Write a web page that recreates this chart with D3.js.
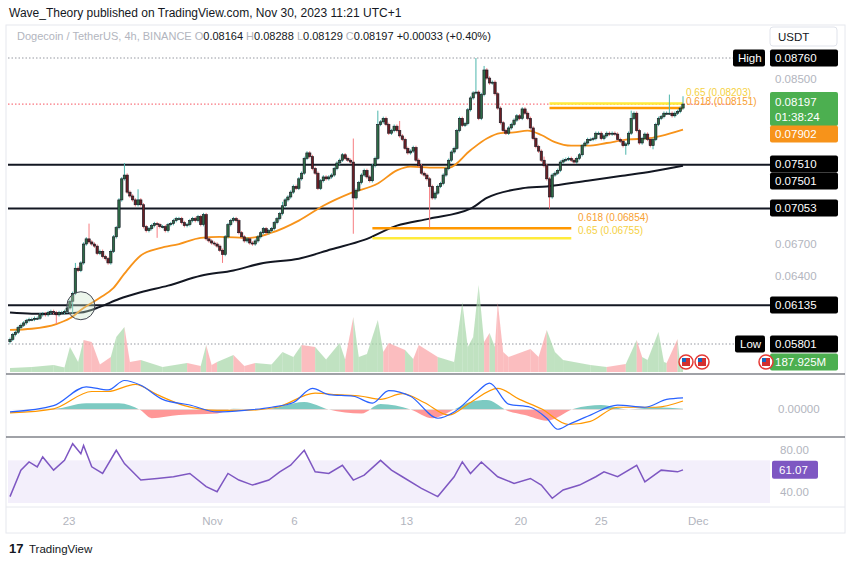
<!DOCTYPE html>
<html>
<head>
<meta charset="utf-8">
<script src="https://cdn.jsdelivr.net/npm/d3@7"></script>
<style>
  body { margin: 0; background: #fff; font-family: "Liberation Sans", Arial, sans-serif; }
  svg text { font-family: "Liberation Sans", Arial, sans-serif; }
</style>
</head>
<body>
<svg id="chart" width="850" height="564"></svg>
<script>
// DOGE/USDT 4h closes, Oct 19 -> Nov 30 (one per candle)
let closes = [
  .0584,.0588,.0590,.0594,.0596,.0598,.0600,.0601,.0601,.0602,
  .0602,.0605,.0606,.0605,.0607,.0608,.0607,.0605,.0607,.0607,
  .0608,.0611,.0617,.0624,.0647,.0645,.0652,.0670,.0675,.0672,
  .0670,.0668,.0661,.0663,.0658,.0656,.0652,.0663,.0677,.0686,
  .0714,.0736,.0740,.0722,.0718,.0714,.0709,.0714,.0709,.0687,
  .0683,.0685,.0688,.0690,.0689,.0687,.0687,.0683,.0689,.0690,
  .0693,.0695,.0695,.0691,.0688,.0689,.0693,.0695,.0693,.0697,
  .0689,.0699,.0675,.0673,.0671,.0670,.0668,.0664,.0660,.0677,
  .0689,.0693,.0695,.0693,.0681,.0677,.0673,.0675,.0671,.0670,
  .0673,.0677,.0681,.0685,.0681,.0683,.0685,.0691,.0695,.0700,
  .0708,.0714,.0717,.0722,.0728,.0726,.0736,.0742,.0758,.0764,
  .0760,.0747,.0742,.0726,.0734,.0738,.0736,.0738,.0740,.0747,
  .0753,.0756,.0762,.0758,.0756,.0754,.0716,.0724,.0732,.0740,
  .0745,.0738,.0734,.0750,.0758,.0796,.0799,.0803,.0796,.0786,
  .0789,.0794,.0789,.0783,.0779,.0769,.0764,.0766,.0770,.0756,
  .0750,.0742,.0740,.0736,.0728,.0716,.0721,.0728,.0731,.0740,
  .0747,.0756,.0765,.0769,.0789,.0803,.0795,.0797,.0813,.0827,
  .0833,.0834,.0803,.0831,.0861,.0851,.0845,.0846,.0832,.0815,
  .0798,.0789,.0786,.0792,.0796,.0801,.0806,.0803,.0814,.0809,
  .0803,.0792,.0780,.0771,.0766,.0756,.0750,.0736,.0717,.0740,
  .0742,.0745,.0754,.0756,.0757,.0758,.0756,.0754,.0758,.0762,
  .0772,.0775,.0779,.0779,.0780,.0786,.0786,.0780,.0783,.0786,
  .0785,.0786,.0785,.0779,.0777,.0772,.0774,.0786,.0803,.0809,
  .0789,.0775,.0780,.0785,.0779,.0772,.0779,.0796,.0803,.0805,
  .0809,.0809,.0809,.0806,.0809,.0811,.0815,.08197
];
let firstOpen = 0.0582;
// long wicks [candle index, price]
let wickHighs = [[24,.0652],[29,.0690],[42,.0753],[47,.0725],[100,.0712],[126,.0780],[135,.0812],[143,.0800],[171,.0876],[174,.0866],[196,.0760],[228,.0812],[242,.0831],[247,.0829]];
let wickLows = [[17,.0597],[23,.0606],[54,.0676],[78,.0652],[126,.0680],[154,.0686],[198,.0705],[226,.0762],[236,.0768]];

// moving averages [candle index, value]
let ma50 = [[0,.0592],[8,.0593],[17,.0597],[22,.0602],[27,.0611],[33,.0620],[38,.0629],[42,.0642],[48,.0659],[55,.0666],[62,.0670],[70,.0676],[77,.0677],[88,.0676],[96,.0681],[106,.0693],[115,.0708],[125,.0721],[135,.0731],[142,.0745],[147,.0749],[154,.0748],[161,.0748],[169,.0767],[175,.0780],[180,.0786],[185,.0787],[190,.0789],[195,.0784],[200,.0776],[206,.0772],[212,.0772],[219,.0775],[227,.0779],[234,.0780],[239,.0783],[247,.0790]];
let ma200 = [[0,.0607],[8,.0606],[18,.0606],[26,.0607],[33,.0612],[40,.0619],[48,.0625],[58,.0631],[70,.0640],[82,.0645],[93,.0652],[106,.0656],[118,.0665],[130,.0674],[142,.0688],[154,.0695],[169,.0705],[175,.0716],[188,.0726],[197,.0728],[212,.0734],[224,.0739],[236,.0744],[247,.0750]];

// volume in millions [candle index, volume]
let volume = [[0,80],[8,100],[16,140],[20,90],[22,500],[25,200],[27,640],[30,600],[33,150],[37,300],[39,700],[42,900],[44,200],[48,240],[56,100],[65,180],[70,120],[72,540],[74,140],[76,200],[82,340],[86,120],[90,180],[96,150],[100,400],[104,300],[107,540],[112,500],[116,250],[121,580],[123,250],[126,1100],[128,300],[131,360],[135,1040],[137,400],[139,580],[145,440],[148,260],[150,540],[157,300],[163,200],[166,1400],[168,500],[170,700],[172,1740],[174,600],[176,780],[178,500],[179,1400],[181,400],[183,300],[191,460],[194,300],[197,840],[200,400],[203,240],[213,140],[219,100],[226,160],[230,640],[232,300],[234,240],[238,800],[240,200],[241,180],[245,660],[246,120],[247,188]];

// MACD [candle index, value]
let macd = [[0,-.00016],[16,.00024],[28,.00144],[36,.00124],[42,.00184],[48,.00154],[56,.00064],[66,.00028],[76,-.00016],[86,-.00006],[96,.00014],[104,.00044],[111,.00134],[117,.00094],[126,.00084],[133,.0004],[139,.0012],[147,.00084],[157,-.00056],[163,-.00016],[171,.00104],[176,.00168],[183,.00034],[191,.00014],[197,-.00056],[201,-.00126],[205,-.00096],[213,-.00036],[223,.00028],[233,.00014],[241,.00064],[247,.00074]];
let signal = [[0,-.00022],[16,.00004],[30,.00114],[36,.00114],[46,.0016],[54,.00094],[64,.00024],[76,-.00006],[86,-.00006],[98,.00014],[112,.00104],[120,.00094],[129,.00084],[136,.00064],[144,.001],[152,.00044],[161,-.00036],[169,.00044],[179,.00134],[187,.00064],[195,.00004],[205,-.00096],[213,-.00076],[223,.00014],[237,.00014],[247,.00054]];
let hist = [[0,0],[16,.00004],[28,.0004],[40,.0004],[48,-.00006],[52,-.00056],[62,-.00036],[76,-.00026],[82,.00004],[93,0],[108,.00048],[117,0],[129,-.00026],[136,.00034],[147,0],[155,-.00056],[163,0],[169,.00048],[175,.0006],[183,-.00012],[189,-.00036],[197,-.00072],[207,.00004],[217,.00028],[227,0],[237,.00014],[247,.00004]];

// RSI [candle index, value]
let rsi = [[0,36],[4,60.8],[7,68.5],[10,63.9],[12,73.2],[16,60.8],[20,70],[23,85.6],[26,76.3],[27,84],[30,63.9],[34,57.7],[39,79.4],[42,67],[48,51.5],[54,53],[60,54.6],[66,57.7],[72,45.3],[76,40.6],[80,57.7],[84,51.5],[89,46.8],[95,51.5],[99,59.2],[103,65.4],[108,79.4],[112,59.2],[117,57.7],[122,65.4],[126,51.5],[130,56.1],[136,70],[140,60.8],[144,54.6],[151,43.7],[157,36],[163,54.6],[166,68.5],[169,57.7],[173,68.5],[179,54.6],[185,48.4],[191,53],[195,46.8],[199,34.4],[203,42.2],[209,46.8],[215,54.6],[218,59.2],[223,54.6],[230,65.4],[233,49.9],[239,60.8],[245,59.2],[247,61.07]];

let priceTicks = [0.085, 0.067, 0.064];
// day labels at candle index
let dayTicks = [[21.7,"23"],[74.3,"Nov"],[104.4,"6"],[145.6,"13"],[187.5,"20"],[217,"25"],[252.6,"Dec"]];
let levels = [0.0751, 0.07053, 0.06135];

let svg = d3.select("#chart");
let x = d3.scaleLinear().domain([0, 247]).range([10, 683]);
let y = d3.scaleLog().domain([0.05801, 0.0876]).range([344, 58]);
let yVol = d3.scaleLinear().domain([0, 1740]).range([372, 285]);
let yMacd = d3.scaleLinear().domain([-0.0015, 0.002]).range([433, 378]);
let yRsi = d3.scaleLinear().domain([30, 90]).range([503, 439]);

// header
svg.append("text").attr("x", 9).attr("y", 17).attr("font-size", 12).attr("fill", "#131722")
    .text("Wave_Theory published on TradingView.com, Nov 30, 2023 11:21 UTC+1");
svg.append("rect").attr("x", 6).attr("y", 25).attr("width", 839).attr("height", 508)
    .attr("fill", "none").attr("stroke", "#e6e8ee");
let hdr = svg.append("text").attr("x", 17).attr("y", 40).attr("font-size", 11);
hdr.append("tspan").attr("fill", "#b2b5be").text("Dogecoin / TetherUS, 4h, BINANCE  ");
[["O", "0.08164"], ["H", "0.08288"], ["L", "0.08129"], ["C", "0.08197"]].forEach(p => {
    hdr.append("tspan").attr("fill", "#b2b5be").text(" " + p[0]);
    hdr.append("tspan").attr("fill", "#131722").text(p[1] + " ");
});
hdr.append("tspan").attr("fill", "#131722").text(" +0.00033 (+0.40%)");

// pane separators
svg.append("line").attr("x1", 6).attr("x2", 845).attr("y1", 374).attr("y2", 374).attr("stroke", "#434651").attr("stroke-width", 1.2);
svg.append("line").attr("x1", 6).attr("x2", 845).attr("y1", 437).attr("y2", 437).attr("stroke", "#434651").attr("stroke-width", 1.2);
svg.append("line").attr("x1", 6).attr("x2", 845).attr("y1", 507).attr("y2", 507).attr("stroke", "#e6e8ee");

// dotted lines
let dotted = [[0.0876, "#9598a1"], [0.08197, "#f7525f"], [0.05801, "#9598a1"]];
dotted.forEach(d => {
    svg.append("line").attr("x1", 8).attr("x2", 735).attr("y1", y(d[0])).attr("y2", y(d[0]))
        .attr("stroke", d[1]).attr("stroke-dasharray", "1.5,2").attr("stroke-width", 1);
});

// horizontal levels
levels.forEach(v => {
    svg.append("line").attr("x1", 8).attr("x2", 770).attr("y1", y(v)).attr("y2", y(v))
        .attr("stroke", "#131722").attr("stroke-width", 2);
});

// volume
let volG = svg.append("g");
for (let k = 0; k < volume.length - 1; k++) {
    let a = volume[k], b = volume[k + 1];
    let i = Math.round((a[0] + b[0]) / 2);
    let o = i ? closes[i - 1] : firstOpen;
    let up = closes[i] >= o;
    volG.append("path")
        .attr("d", d3.area().x(d => x(d[0])).y0(yVol(0)).y1(d => yVol(d[1]))([a, b]))
        .attr("fill", up ? "#a5d6a7" : "#faa1a4").attr("opacity", 0.7);
}

// MA lines
let maLine = d3.line().x(d => x(d[0])).y(d => y(d[1])).curve(d3.curveMonotoneX);
svg.append("path").attr("d", maLine(ma200)).attr("fill", "none").attr("stroke", "#131722").attr("stroke-width", 2);
svg.append("path").attr("d", maLine(ma50)).attr("fill", "none").attr("stroke", "#f7931a").attr("stroke-width", 1.8);

// fib levels
let fibs = [
    {i0: 198, i1: 247, v: 0.08203, c: "#ffeb3b", label: "0.65 (0.08203)", lx: 686, ly: 96},
    {i0: 198, i1: 247, v: 0.08151, c: "#ff9800", label: "0.618 (0.08151)", lx: 686, ly: 105},
    {i0: 133, i1: 206, v: 0.06854, c: "#ff9800", label: "0.618 (0.06854)", lx: 578, ly: 221},
    {i0: 133, i1: 206, v: 0.06755, c: "#ffeb3b", label: "0.65 (0.06755)", lx: 578, ly: 234}
];
fibs.forEach(f => {
    svg.append("line").attr("x1", x(f.i0)).attr("x2", x(f.i1)).attr("y1", y(f.v)).attr("y2", y(f.v))
        .attr("stroke", f.c).attr("stroke-width", 2.5);
    svg.append("text").attr("x", f.lx).attr("y", f.ly).attr("font-size", 10)
        .attr("fill", f.c === "#ffeb3b" ? "#f5d142" : "#f7a030").text(f.label);
});

// candles
let candleData = closes.map((c, i) => {
    let o = i ? closes[i - 1] : firstOpen;
    let hi = Math.max(o, c) * 1.0025, lo = Math.min(o, c) * 0.9975;
    wickHighs.forEach(w => { if (w[0] === i) hi = w[1]; });
    wickLows.forEach(w => { if (w[0] === i) lo = w[1]; });
    return {i, o, c, hi, lo};
});
let cg = svg.append("g").selectAll("g").data(candleData).join("g");
cg.append("line").attr("x1", d => x(d.i)).attr("x2", d => x(d.i))
    .attr("y1", d => y(d.hi)).attr("y2", d => y(d.lo))
    .attr("stroke", d => d.c >= d.o ? "#4db6ac" : "#f77c80").attr("stroke-width", 1);
cg.append("rect").attr("x", d => x(d.i) - 1.2).attr("width", 2.4)
    .attr("y", d => y(Math.max(d.o, d.c)))
    .attr("height", d => Math.max(1, Math.abs(y(d.o) - y(d.c))))
    .attr("fill", d => d.c >= d.o ? "#2e6b46" : "#6b1f24")
    .attr("stroke", "#131722").attr("stroke-width", 0.6);

// crossover circle
svg.append("circle").attr("cx", x(26)).attr("cy", y(0.0613)).attr("r", 14)
    .attr("fill", "rgba(200,230,201,0.35)").attr("stroke", "#434651").attr("stroke-width", 1);

// MACD
let histArea = d3.area().x(d => x(d[0])).y0(yMacd(0)).y1(d => yMacd(d[1])).curve(d3.curveMonotoneX);
svg.append("clipPath").attr("id", "pos").append("rect").attr("x", 0).attr("y", 370).attr("width", 850).attr("height", yMacd(0) - 370);
svg.append("clipPath").attr("id", "neg").append("rect").attr("x", 0).attr("y", yMacd(0)).attr("width", 850).attr("height", 30);
svg.append("path").attr("d", histArea(hist)).attr("fill", "#26a69a").attr("opacity", 0.6).attr("clip-path", "url(#pos)");
svg.append("path").attr("d", histArea(hist)).attr("fill", "#ff5252").attr("opacity", 0.6).attr("clip-path", "url(#neg)");
let macdLine = d3.line().x(d => x(d[0])).y(d => yMacd(d[1])).curve(d3.curveMonotoneX);
svg.append("path").attr("d", macdLine(signal)).attr("fill", "none").attr("stroke", "#ff9800").attr("stroke-width", 1.2);
svg.append("path").attr("d", macdLine(macd)).attr("fill", "none").attr("stroke", "#2962ff").attr("stroke-width", 1.2);

// RSI
svg.append("rect").attr("x", 8).attr("y", yRsi(70)).attr("width", 762).attr("height", yRsi(30) - yRsi(70)).attr("fill", "#f3effb");
svg.append("path").attr("d", d3.line().x(d => x(d[0])).y(d => yRsi(d[1]))(rsi))
    .attr("fill", "none").attr("stroke", "#7e57c2").attr("stroke-width", 1.5);

// right axis
let ax = svg.append("g").attr("font-size", 11.5);
function box(yc, label, bg, fg, x0, w) {
    ax.append("rect").attr("x", x0 || 770).attr("y", yc - 8.5).attr("width", w || 68).attr("height", 17).attr("rx", 2).attr("fill", bg);
    ax.append("text").attr("x", (x0 || 770) + 5).attr("y", yc + 4).attr("fill", fg).text(label);
}
ax.append("rect").attr("x", 770).attr("y", 27).attr("width", 67).attr("height", 19).attr("rx", 3).attr("fill", "#fff").attr("stroke", "#e0e3eb");
ax.append("text").attr("x", 778).attr("y", 41).attr("fill", "#131722").text("USDT");
priceTicks.forEach(v => ax.append("text").attr("x", 775).attr("y", y(v) + 4).attr("fill", "#b2b5be").text(d3.format(".5f")(v)));
box(y(0.0876), "High", "#000", "#fff", 733, 32);
box(y(0.0876), "0.08760", "#000", "#fff");
ax.append("rect").attr("x", 770).attr("y", 92).attr("width", 68).attr("height", 34).attr("rx", 2).attr("fill", "#4caf50");
ax.append("text").attr("x", 775).attr("y", 106).attr("fill", "#fff").text("0.08197");
ax.append("text").attr("x", 775).attr("y", 121).attr("fill", "#fff").text("01:38:24");
box(134, "0.07902", "#f7931a", "#fff");
box(164, "0.07510", "#000", "#fff");
box(181, "0.07501", "#000", "#fff");
box(208, "0.07053", "#000", "#fff");
box(305, "0.06135", "#000", "#fff");
box(344, "Low", "#000", "#fff", 735, 30);
box(344, "0.05801", "#000", "#fff");
box(362, "187.925M", "#4caf50", "#fff");
ax.append("text").attr("x", 778).attr("y", yMacd(0) + 4).attr("fill", "#b2b5be").text("0.00000");
[80, 40].forEach(v => ax.append("text").attr("x", 780).attr("y", yRsi(v) + 4).attr("fill", "#b2b5be").text(v.toFixed(2)));
ax.append("rect").attr("x", 772).attr("y", yRsi(61.07) - 9).attr("width", 46).attr("height", 18).attr("rx", 2).attr("fill", "#7e57c2");
ax.append("text").attr("x", 779).attr("y", yRsi(61.07) + 4).attr("fill", "#fff").text("61.07");

// event flags
[[686, 362], [702, 362], [766, 362]].forEach(p => {
    svg.append("circle").attr("cx", p[0]).attr("cy", p[1]).attr("r", 7).attr("fill", "#fff").attr("stroke", "#e53935").attr("stroke-width", 1.5);
    svg.append("rect").attr("x", p[0] - 4).attr("y", p[1] - 4).attr("width", 8).attr("height", 8).attr("fill", "#d32f2f");
    svg.append("rect").attr("x", p[0] - 4).attr("y", p[1] - 4).attr("width", 4).attr("height", 4).attr("fill", "#1565c0");
});

// time axis
let tx = svg.append("g").attr("font-size", 11.5).attr("fill", "#b2b5be");
dayTicks.forEach(t => tx.append("text").attr("x", x(t[0])).attr("y", 525).attr("text-anchor", "middle").text(t[1]));

// footer
svg.append("text").attr("x", 9).attr("y", 553).attr("font-size", 13).attr("font-weight", "bold").attr("fill", "#131722").text("17");
svg.append("text").attr("x", 29).attr("y", 553).attr("font-size", 11.5).attr("fill", "#131722").text("TradingView");
</script>
</body>
</html>
